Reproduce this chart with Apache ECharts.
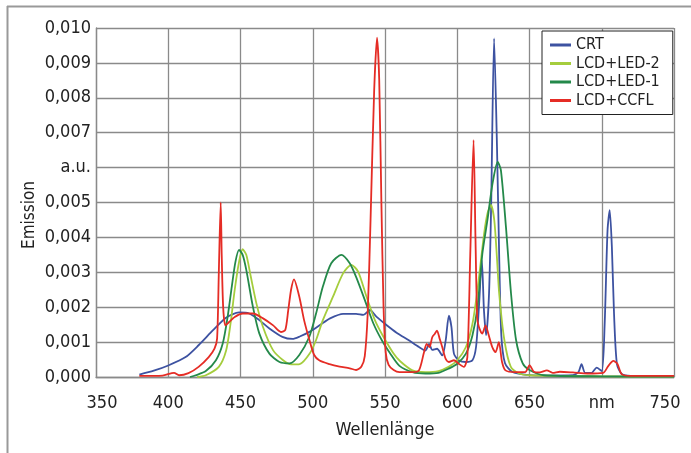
<!DOCTYPE html>
<html>
<head>
<meta charset="utf-8">
<script src="https://cdn.jsdelivr.net/npm/echarts@6/dist/echarts.min.js"></script>
<style>html,body{margin:0;padding:0;background:#fff}#c{width:691px;height:453px}</style>
</head>
<body>
<div id="c"></div>
<script>
// Values in units of 0.001 (a.u.), x in nm
const seriesNames = ['CRT', 'LCD+LED-2', 'LCD+LED-1', 'LCD+CCFL'];
const seriesColors = ['#3d52a1', '#a5cd3d', '#24894a', '#e52c25'];

const xTickValues = [350, 400, 450, 500, 550, 600, 650, 700, 750];
const xTickLabels = ['350', '400', '450', '500', '550', '600', '650', 'nm', '750'];
const yTickValues = [0, 1, 2, 3, 4, 5, 6, 7, 8, 9, 10];
const yTickLabels = ['0,000', '0,001', '0,002', '0,003', '0,004', '0,005', 'a.u.', '0,007', '0,008', '0,009', '0,010'];

const crt = [[380,0.07],[390,0.18],[400,0.33],[412,0.57],[421,0.91],[431,1.34],[440,1.70],[449,1.85],[456,1.82],[463,1.63],[470,1.39],[479,1.15],[486,1.09],[491,1.16],[498,1.30],[505,1.49],[512,1.68],[521,1.81],[530,1.81],[535,1.78],[539.5,1.92],[544,1.73],[551,1.49],[558,1.27],[566.5,1.05],[573.5,0.86],[578,0.76],[580.5,0.95],[582.7,0.78],[586,0.81],[589.6,0.62],[592,1.05],[594.2,1.76],[596,1.43],[597.7,0.67],[601,0.48],[606,0.43],[610.5,0.48],[613,0.86],[615,2.0],[617,3.35],[618.5,1.9],[620,1.2],[622,2.4],[623.5,5.0],[625.5,9.7],[627.5,6.6],[629,3.5],[630.5,1.2],[633,0.4],[638,0.15],[648,0.06],[660,0.04],[680,0.05],[684,0.15],[686,0.37],[688.5,0.12],[693,0.12],[696.5,0.27],[700,0.17],[702,1.5],[704,4.2],[705.5,4.78],[707,3.73],[708.5,1.81],[710.5,0.37],[714,0.08],[720,0.03],[750,0.02]];

const led2 = [[420,0.0],[426,0.05],[435,0.29],[440,0.75],[443,1.5],[446,2.5],[449,3.3],[451.5,3.66],[454,3.5],[457,2.9],[461,2.11],[465.5,1.44],[472.5,0.77],[479.5,0.48],[485,0.36],[491,0.37],[498,0.68],[502.3,1.06],[507,1.63],[514,2.30],[521,2.97],[526.7,3.21],[531.4,3.02],[537.2,2.30],[543,1.63],[548.8,1.16],[555.8,0.68],[560.5,0.45],[569,0.19],[578,0.14],[587,0.17],[594,0.29],[600,0.48],[606,0.86],[610.5,1.52],[614,2.5],[618.6,4.11],[621,4.7],[623.3,4.93],[625.6,4.5],[627.5,3.4],[629,2.4],[632.6,1.06],[637,0.3],[643,0.1],[650,0.05],[700,0.02],[750,0.01]];

const led1 = [[415,0.0],[419,0.05],[426,0.17],[433,0.48],[437.7,0.96],[441,1.7],[444,2.6],[446.5,3.3],[449,3.64],[451.5,3.5],[454,3.07],[458.6,2.01],[463,1.25],[470,0.67],[477,0.43],[484,0.39],[490.7,0.63],[497.7,1.16],[502.3,1.82],[507,2.59],[512.8,3.26],[519.8,3.50],[525.6,3.26],[530,2.87],[536,2.21],[541.9,1.54],[547.7,1.06],[553.5,0.68],[560,0.32],[569,0.14],[578,0.10],[587,0.12],[594,0.24],[600,0.38],[606,0.67],[610.5,1.19],[614,2.0],[617.4,3.54],[620.9,4.5],[624.4,5.54],[628,6.16],[630.2,5.93],[633.7,4.3],[637.2,2.4],[640.7,1.06],[645.3,0.39],[650,0.2],[660,0.05],[700,0.02],[750,0.01]];

const ccfl = [[380,0.03],[396,0.04],[404,0.12],[407.5,0.05],[414,0.11],[421,0.29],[428,0.57],[432,0.81],[433.8,1.1],[435,3.0],[436.3,5.0],[437,3.5],[438,2.0],[439.5,1.48],[441,1.53],[446,1.72],[451.6,1.82],[458.6,1.82],[465.6,1.68],[472.6,1.48],[478,1.29],[481,1.35],[483,1.9],[485,2.5],[487,2.80],[490.7,2.30],[494,1.63],[497.7,1.06],[501,0.63],[504.7,0.47],[511.6,0.37],[518.6,0.30],[525.6,0.25],[530,0.20],[533.7,0.30],[536,0.6],[538,1.8],[540,4.5],[542.5,8.2],[544.5,9.72],[546,8.5],[547.5,5.0],[549,2.0],[550.5,0.7],[552.5,0.35],[556,0.2],[560,0.14],[569,0.14],[573.5,0.19],[577,0.71],[578.8,0.95],[580.8,0.86],[582.7,1.14],[584.5,1.24],[586,1.33],[587.8,1.10],[589.6,0.86],[592,0.52],[594.2,0.43],[597.7,0.48],[601,0.38],[604.6,0.29],[607,0.57],[609,3.5],[611.3,6.79],[612.6,4.0],[613.8,1.7],[615,1.43],[617.3,1.24],[619.6,1.48],[621.5,1.24],[624.2,0.86],[626.5,0.71],[628.8,1.0],[631,0.43],[633.4,0.19],[640,0.14],[647,0.14],[650,0.34],[653,0.15],[657,0.13],[662,0.19],[666,0.12],[671,0.15],[680,0.13],[690,0.10],[701,0.12],[704.6,0.32],[708,0.46],[710.8,0.38],[713.8,0.08],[720,0.03],[750,0.03]];

const seriesData = [crt, led2, led1, ccfl];

const FONT = '"DejaVu Sans Condensed", "Liberation Sans Narrow", sans-serif';
const TXT = '#222';
const chart = echarts.init(document.getElementById('c'));
chart.setOption({
  backgroundColor: '#fff',
  animation: false,
  textStyle: { fontFamily: FONT, color: TXT },
  grid: { left: 96, right: 17, top: 28, bottom: 76 },
  xAxis: {
    type: 'value', min: 350, max: 750, interval: 50,
    name: 'Wellenlänge', nameLocation: 'middle', nameGap: 44,
    nameTextStyle: { fontFamily: FONT, fontSize: 18, color: TXT },
    axisLine: { show: true, lineStyle: { color: '#8a8a8a', width: 1.3 } },
    axisTick: { show: false },
    axisLabel: {
      fontFamily: FONT, fontSize: 18, color: TXT, margin: 17,
      formatter: v => {
        const i = xTickValues.indexOf(v);
        if (i < 0) return '';
        if (i === 0) return '{first|' + xTickLabels[i] + '}';
        if (i === xTickValues.length - 1) return '{last|' + xTickLabels[i] + '}';
        if (xTickLabels[i] === 'nm') return '{unit|' + xTickLabels[i] + '}';
        return xTickLabels[i];
      },
      rich: {
        first: { fontFamily: FONT, fontSize: 18, color: TXT, padding: [0, 0, 0, 12] },
        last: { fontFamily: FONT, fontSize: 18, color: TXT, padding: [0, 18, 0, 0] },
        unit: { fontFamily: FONT, fontSize: 18, color: TXT, padding: [0, 0, 4, 0] }
      }
    },
    splitLine: { show: true, lineStyle: { color: '#8a8a8a', width: 1.3 } }
  },
  yAxis: {
    type: 'value', min: 0, max: 10, interval: 1,
    axisLine: { show: true, lineStyle: { color: '#8a8a8a', width: 1.3 } },
    axisTick: { show: false },
    axisLabel: {
      fontFamily: FONT, fontSize: 18, color: TXT, margin: 5,
      formatter: v => yTickLabels[yTickValues.indexOf(Math.round(v))] ?? ''
    },
    splitLine: { show: true, lineStyle: { color: '#8a8a8a', width: 1.3 } }
  },
  legend: {
    orient: 'vertical', left: 542, top: 31,
    backgroundColor: '#fff', borderColor: '#222', borderWidth: 1,
    padding: [6, 13, 6, 8], itemGap: 2.5, itemWidth: 21, itemHeight: 3,
    icon: 'rect',
    textStyle: { fontFamily: FONT, fontSize: 16, color: TXT, lineHeight: 16 },
    data: seriesNames
  },
  series: seriesNames.map((n, i) => ({
    name: n, type: 'line', data: seriesData[i],
    showSymbol: false, smooth: 0.25,
    lineStyle: { color: seriesColors[i], width: 1.8 },
    itemStyle: { color: seriesColors[i] }
  })),
  graphic: [
    { type: 'line', shape: { x1: 7, y1: 6.5, x2: 691, y2: 6.5 }, style: { stroke: '#999', lineWidth: 2 } },
    { type: 'line', shape: { x1: 7.5, y1: 6, x2: 7.5, y2: 453 }, style: { stroke: '#999', lineWidth: 2 } },
    { type: 'text', x: 30, y: 215, rotation: Math.PI / 2,
      style: { text: 'Emission', fontFamily: FONT, fontSize: 17, fill: TXT, align: 'center', verticalAlign: 'middle' } }
  ]
});
</script>
</body>
</html>
